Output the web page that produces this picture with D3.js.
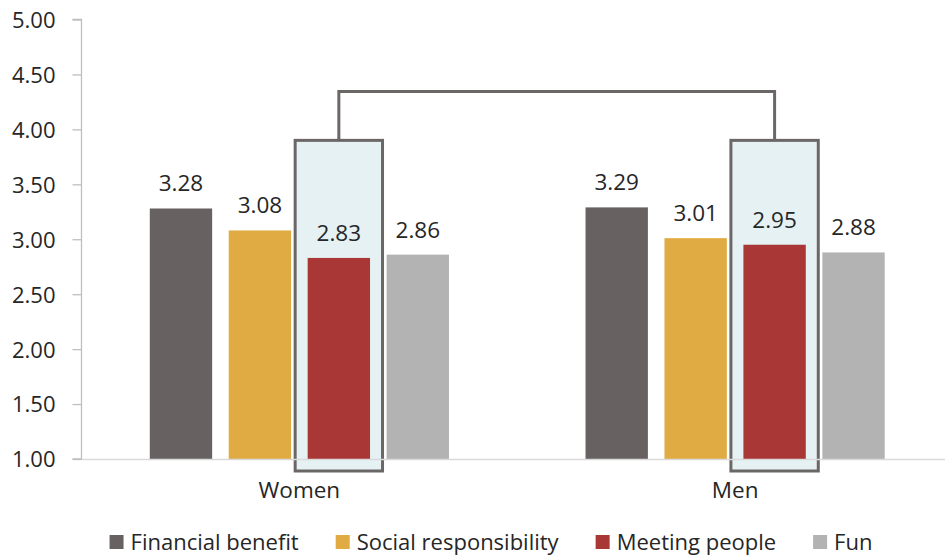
<!DOCTYPE html>
<html>
<head>
<meta charset="utf-8">
<script src="https://cdn.jsdelivr.net/npm/d3@7/dist/d3.min.js"></script>
<style>
  html, body { margin: 0; padding: 0; background: #ffffff; }
  svg { display: block; font-family: "Open Sans", Lato, sans-serif; }
</style>
</head>
<body>
<svg id="chart" width="945" height="558"></svg>
<script>
// Groups on the x axis
const groups = ["Women", "Men"];
// Motivation series, in legend order
const series = ["Financial benefit", "Social responsibility", "Meeting people", "Fun"];
const colors = ["#676261", "#dfab42", "#a83735", "#b3b3b3"];
// Mean scores per group, one entry per series
const womenValues = [3.28, 3.08, 2.83, 2.86];
const menValues = [3.29, 3.01, 2.95, 2.88];
// Y axis ticks
const yTicks = [1.00, 1.50, 2.00, 2.50, 3.00, 3.50, 4.00, 4.50, 5.00];
// Series that is boxed and linked across groups
const highlighted = "Meeting people";

const rows = groups.map((g, i) => ({
  group: g,
  values: (i === 0 ? womenValues : menValues).map((v, j) => ({ key: series[j], value: v }))
}));

const svg = d3.select("#chart");
const W = 945;
const margin = { left: 81.5, right: -8, top: 19.5, bottom: 99 };
const plotBottom = 558 - margin.bottom;
const fontFamily = "'Open Sans', Lato, sans-serif";

const y = d3.scaleLinear().domain([1, 5]).range([plotBottom, margin.top]);
const x0 = d3.scaleBand().domain(groups).range([margin.left, W - margin.right]);
const x1 = d3.scaleBand().domain(series).range([0, x0.bandwidth()])
  .paddingInner(0.21).paddingOuter(0.865);
const color = d3.scaleOrdinal().domain(series).range(colors);

const textColor = "#262626";

// Highlight boxes around the chosen series, plus the bracket joining them
const boxPad = 12.5;
const boxTop = 3.9, boxBottomPx = 12, bracketLevel = 4.345;
const boxG = svg.append("g");
rows.forEach(r => {
  const bx = x0(r.group) + x1(highlighted) - boxPad;
  boxG.append("rect")
    .attr("x", bx)
    .attr("y", y(boxTop))
    .attr("width", x1.bandwidth() + 2 * boxPad)
    .attr("height", y(1) + boxBottomPx - y(boxTop))
    .attr("fill", "#e5f1f3")
    .attr("stroke", "#6b6767")
    .attr("stroke-width", 3);
});
const cx = rows.map(r => x0(r.group) + x1(highlighted) + x1.bandwidth() / 2);
boxG.append("path")
  .attr("d", d3.line()([[cx[0], y(boxTop)], [cx[0], y(bracketLevel)], [cx[1], y(bracketLevel)], [cx[1], y(boxTop)]]))
  .attr("fill", "none")
  .attr("stroke", "#6b6767")
  .attr("stroke-width", 3);

// Bars
const gGroups = svg.append("g").selectAll("g").data(rows).join("g")
  .attr("transform", d => `translate(${x0(d.group)},0)`);
gGroups.selectAll("rect").data(d => d.values).join("rect")
  .attr("x", d => x1(d.key))
  .attr("y", d => y(d.value))
  .attr("width", x1.bandwidth())
  .attr("height", d => y(1) - y(d.value))
  .attr("fill", d => color(d.key));

// Value labels
gGroups.selectAll("text").data(d => d.values).join("text")
  .attr("x", d => x1(d.key) + x1.bandwidth() / 2)
  .attr("y", d => y(d.value) - 17)
  .attr("text-anchor", "middle")
  .attr("font-size", 22.5)
  .attr("fill", textColor)
  .text(d => d.value.toFixed(2));

// Y axis
const yAxis = svg.append("g")
  .attr("transform", `translate(${margin.left},0)`)
  .call(d3.axisLeft(y).tickValues(yTicks).tickFormat(d3.format(".2f")).tickSize(9).tickPadding(17));
yAxis.select(".domain").attr("stroke", "#bfbfbf").attr("stroke-width", 1.3)
  .attr("d", `M-9,${y(5)}H0V${y(1)}H-9`);
yAxis.selectAll(".tick line").attr("stroke", "#bfbfbf").attr("stroke-width", 1.3);
yAxis.selectAll(".tick text").attr("font-size", 22).attr("fill", textColor)
  .attr("font-family", fontFamily).attr("dy", "0.36em");

// X axis
const xAxis = svg.append("g")
  .attr("transform", `translate(0,${plotBottom})`)
  .call(d3.axisBottom(x0).tickSize(0).tickPadding(23));
xAxis.select(".domain").attr("stroke", "#d9d9d9").attr("stroke-width", 1.3);
xAxis.selectAll(".tick text").attr("font-size", 22.5).attr("fill", textColor)
  .attr("font-family", fontFamily);

// Legend
const legend = svg.append("g").attr("font-size", 22).attr("fill", textColor);
const items = legend.selectAll("g").data(series).join("g");
items.append("rect").attr("width", 14).attr("height", 14).attr("y", 535)
  .attr("fill", d => color(d));
items.append("text").attr("x", 21).attr("y", 550).text(d => d);
let lx = 0;
const offsets = [];
items.each(function () {
  offsets.push(lx);
  lx += 21 + d3.select(this).select("text").node().getComputedTextLength() + 37;
});
const legendWidth = lx - 37;
const legendStart = 491 - legendWidth / 2;
items.attr("transform", (d, i) => `translate(${legendStart + offsets[i]},0)`);
</script>
</body>
</html>
